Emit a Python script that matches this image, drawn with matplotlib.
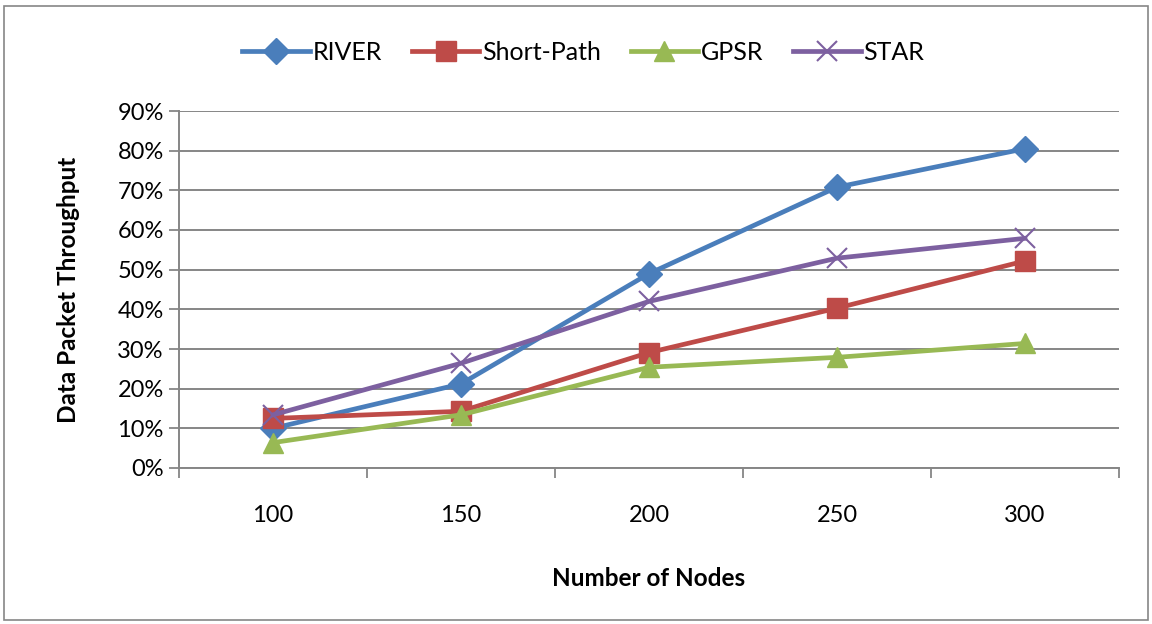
import matplotlib.pyplot as plt
from matplotlib.patches import Rectangle
from matplotlib.ticker import FixedLocator, PercentFormatter

plt.rcParams["font.family"] = ["Lato", "DejaVu Sans"]

nodes = ["100", "150", "200", "250", "300"]
river = [10.0, 21.2, 49.0, 70.8, 80.5]
short_path = [12.5, 14.3, 29.1, 40.3, 52.2]
gpsr = [6.4, 13.4, 25.4, 27.9, 31.4]
star = [13.4, 26.4, 42.0, 52.9, 57.9]
y_ticks = [0, 10, 20, 30, 40, 50, 60, 70, 80, 90]

series = [
    ("RIVER", river, "#4A7EBB", "D", 13),
    ("Short-Path", short_path, "#BE4B48", "s", 14),
    ("GPSR", gpsr, "#98B954", "^", 15),
    ("STAR", star, "#7D60A0", "x", 14),
]

fig = plt.figure(figsize=(11.52, 6.24), dpi=100)
ax = fig.add_axes([179 / 1152, 1 - 468 / 624, 940 / 1152, 357 / 624])

x = list(range(len(nodes)))
for name, vals, color, marker, ms in series:
    if marker == "x":
        ax.plot(x, vals, color=color, lw=3.4, marker=marker, ms=ms,
                mew=1.5, label=name, zorder=3)
    else:
        ax.plot(x, vals, color=color, lw=3.4, marker=marker, ms=ms,
                mec=color, label=name, zorder=3)

ax.set_xlim(-0.5, len(nodes) - 0.5)
ax.set_ylim(0, 90)
ax.set_yticks(y_ticks)
ax.yaxis.set_major_formatter(PercentFormatter(decimals=0))
ax.set_xticks(x)
ax.set_xticklabels(nodes)
ax.xaxis.set_minor_locator(FixedLocator([i - 0.5 for i in range(len(nodes) + 1)]))
ax.tick_params(axis="x", which="major", length=0, pad=27, labelsize=17)
ax.tick_params(axis="x", which="minor", length=7, width=1.3, color="#868686")
ax.tick_params(axis="y", length=7, width=1.3, color="#868686", labelsize=17, pad=4)

ax.grid(axis="y", color="#868686", lw=1.4)
ax.set_axisbelow(True)
for side in ["top", "right"]:
    ax.spines[side].set_visible(False)
for side in ["left", "bottom"]:
    ax.spines[side].set_color("#868686")
    ax.spines[side].set_linewidth(1.4)

ax.set_xlabel("Number of Nodes", fontsize=17.5, fontweight="bold", labelpad=29)
ax.set_ylabel("Data Packet Throughput", fontsize=17.5, fontweight="bold", labelpad=27)

ax.legend(loc="lower center", bbox_to_anchor=(0.43, 1.07), ncol=4, frameon=False,
          fontsize=18, handlelength=2.7, handletextpad=0.1, columnspacing=1.2)

fig.patches.append(Rectangle((4 / 1152, 4 / 624), 1144 / 1152, 614 / 624,
                             transform=fig.transFigure, fill=False,
                             edgecolor="#868686", lw=1.2))

fig.savefig("out.png", dpi=100)
